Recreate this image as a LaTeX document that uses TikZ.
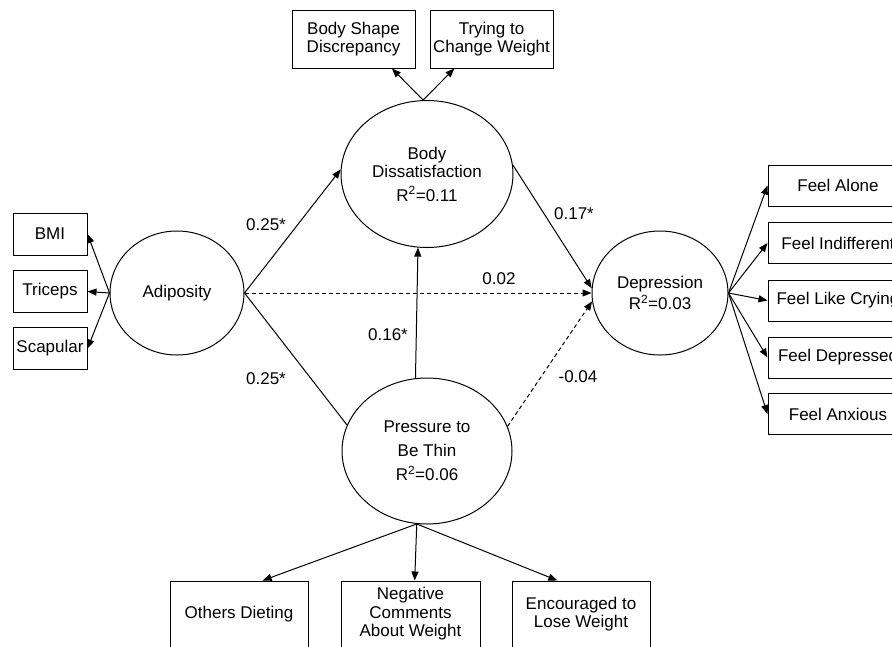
\documentclass[tikz,border=0pt]{standalone}
\usepackage{fontspec}
\setmainfont{Liberation Sans}
\usetikzlibrary{shapes.geometric,arrows.meta,calc}
\begin{document}
\begin{tikzpicture}[x=1pt,y=-1pt,
  every node/.style={font=\fontsize{17}{18.5}\selectfont},
  lat/.style={draw,ellipse,line width=1pt,inner sep=0pt,align=center},
  obs/.style={draw,rectangle,line width=1pt,inner sep=0pt,align=center},
  arr/.style={line width=1pt,-{Triangle[length=9pt,width=7pt]}},
  plain/.style={line width=1pt},
  dsh/.style={line width=1pt,dash pattern=on 4pt off 3pt,-{Triangle[length=9pt,width=7pt]}},
  lbl/.style={inner sep=0pt}
]
\useasboundingbox (0,0) rectangle (892,646);
\clip (0,0) rectangle (892,646);
% latent variables
\node[lat,minimum width=134pt,minimum height=124pt] (adip) at (177,293) {Adiposity};
\node[lat,minimum width=172pt,minimum height=147pt] (bd) at (427,174) {Body\\Dissatisfaction\\[5pt]R\textsuperscript{2}=0.11};
\node[lat,minimum width=170pt,minimum height=146pt] (pr) at (427,451) {Pressure to\\[5pt]Be Thin\\[6pt]R\textsuperscript{2}=0.06};
\node[lat,minimum width=136pt,minimum height=124pt] (dep) at (660,293) {Depression\\[2pt]R\textsuperscript{2}=0.03};
% left indicators
\node[obs,minimum width=74pt,minimum height=42pt] (bmi) at (50,234) {BMI};
\node[obs,minimum width=74pt,minimum height=42pt] (tri) at (50,291.5) {Triceps};
\node[obs,minimum width=74pt,minimum height=42pt] (sca) at (50,348.5) {Scapular};
% top indicators
\node[obs,minimum width=123pt,minimum height=58pt] (bsd) at (353.5,39) {Body Shape\\Discrepancy};
\node[obs,minimum width=123pt,minimum height=58pt] (tcw) at (491.5,39) {Trying to\\Change Weight};
% right indicators
\node[obs,minimum width=140pt,minimum height=41pt] (fal) at (838,185.5) {Feel Alone};
\node[obs,minimum width=140pt,minimum height=41pt] (fin) at (838,243) {Feel Indifferent};
\node[obs,minimum width=140pt,minimum height=41pt] (fcr) at (838,300.5) {Feel Like Crying};
\node[obs,minimum width=140pt,minimum height=41pt] (fde) at (838,357.5) {Feel Depressed};
\node[obs,minimum width=140pt,minimum height=41pt] (fan) at (838,414) {Feel Anxious};
% bottom indicators
\node[obs,minimum width=138pt,minimum height=66pt] (odi) at (239,614) {Others Dieting};
\node[obs,minimum width=139pt,minimum height=66pt] (ncw) at (410.5,614) {Negative\\Comments\\About Weight};
\node[obs,minimum width=138pt,minimum height=66pt] (elw) at (581,614) {Encouraged to\\Lose Weight};
% measurement arrows
\draw[arr] (adip.west) -- (bmi.east);
\draw[arr] (adip.west) -- (tri.east);
\draw[arr] (adip.west) -- (sca.east);
\draw[arr] (bd.93) -- ($(bsd.south west)!0.81!(bsd.south east)$);
\draw[arr] (bd.93) -- ($(tcw.south west)!0.2!(tcw.south east)$);
\draw[arr] (dep.east) -- (fal.west);
\draw[arr] (dep.east) -- (fin.west);
\draw[arr] (dep.east) -- (fcr.west);
\draw[arr] (dep.east) -- (fde.west);
\draw[arr] (dep.east) -- (fan.west);
\draw[arr] (pr.-98) -- ($(odi.north west)!0.67!(odi.north east)$);
\draw[arr] (pr.-98) -- ($(ncw.north west)!0.53!(ncw.north east)$);
\draw[arr] (pr.-98) -- ($(elw.north west)!0.33!(elw.north east)$);
% structural paths
\draw[arr] (adip.east) -- (bd.177);
\draw[plain] (adip.east) -- (pr.162);
\draw[arr] (pr.99) -- (bd.-97);
\draw[arr] (bd.6) -- (dep.176);
\draw[dsh] (adip.east) -- (dep.west);
\draw[dsh] (pr.17) -- (dep.187);
% coefficients
\node[lbl] (c1) at (266,225) {0.25*};
\node[lbl] (c2) at (266,379) {0.25*};
\node[lbl] (c3) at (388,335) {0.16*};
\node[lbl] (c4) at (499,279) {0.02};
\node[lbl] (c5) at (574,214) {0.17*};
\node[lbl] (c6) at (578,377) {-0.04};
\end{tikzpicture}
\end{document}
